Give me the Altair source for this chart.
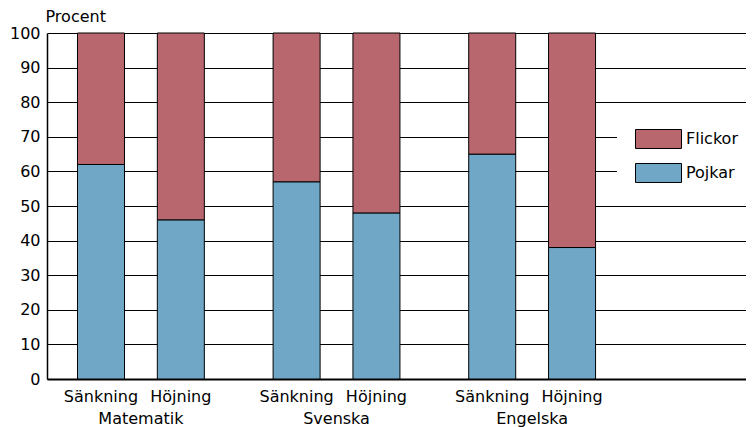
import altair as alt
import pandas as pd

subjects = ["Matematik", "Svenska", "Engelska"]
changes = ["Sänkning", "Höjning"]
pojkar = [62, 46, 57, 48, 65, 38]
flickor = [38, 54, 43, 52, 35, 62]
genders = ["Flickor", "Pojkar"]
colors = ["#B9676E", "#70A7C7"]
y_ticks = list(range(0, 101, 10))

FONT = "DejaVu Sans"
W, H = 699, 346
GROUP_STEP = 2.45
UNIT = 81.0
FIRST = 49.7  # pixel offset of first bar centre from the y axis

rows = []
labels = []
for k in range(6):
    g, i = divmod(k, 2)
    pos = g * GROUP_STEP + i
    rows.append(dict(subject=subjects[g], change=changes[i], pos=pos,
                     gender="Pojkar", value=pojkar[k], order=0))
    rows.append(dict(subject=subjects[g], change=changes[i], pos=pos,
                     gender="Flickor", value=flickor[k], order=1))
    labels.append(dict(pos=pos, text=changes[i]))
df = pd.DataFrame(rows)
df_lab = pd.DataFrame(labels)
df_grp = pd.DataFrame([dict(pos=g * GROUP_STEP + 0.5, text=s) for g, s in enumerate(subjects)])

x0 = -FIRST / UNIT
xscale = alt.Scale(domain=[x0, x0 + W / UNIT], nice=False, zero=False)

bars = alt.Chart(df).mark_bar(width=47, stroke="black", strokeWidth=1).encode(
    x=alt.X("pos:Q", scale=xscale,
            axis=alt.Axis(labels=False, ticks=False, grid=False, title=None,
                          domainColor="black", domainWidth=2)),
    y=alt.Y("value:Q", stack="zero", scale=alt.Scale(domain=[0, 100], nice=False),
            axis=alt.Axis(values=y_ticks, grid=True, gridColor="black", gridWidth=1,
                          domainColor="black", domainWidth=1.5, ticks=False, tickSize=0,
                          labelPadding=7, labelFont=FONT, labelFontSize=16,
                          labelColor="black", title="Procent", titleAngle=0,
                          titleAlign="left", titleBaseline="alphabetic",
                          titleX=-2, titleY=-12, titleFont=FONT, titleFontSize=16,
                          titleFontWeight="normal", titleColor="black")),
    color=alt.Color("gender:N", scale=alt.Scale(domain=genders, range=colors),
                    legend=alt.Legend(title=None, orient="none", legendX=570, legendY=78,
                                      fillColor="white", padding=18,
                                      symbolType="M-1,-0.413L1,-0.413L1,0.413L-1,0.413Z",
                                      symbolSize=2116, symbolStrokeColor="black",
                                      symbolStrokeWidth=1, symbolOpacity=1,
                                      labelFont=FONT, labelFontSize=16, labelColor="black",
                                      labelOffset=4, rowPadding=14, clipHeight=20)),
    order=alt.Order("order:Q"),
)

change_text = alt.Chart(df_lab).mark_text(
    font=FONT, fontSize=16, color="black", align="center", baseline="alphabetic"
).encode(x=alt.X("pos:Q", scale=xscale), y=alt.value(369), text="text:N")

group_text = alt.Chart(df_grp).mark_text(
    font=FONT, fontSize=16, color="black", align="center", baseline="alphabetic"
).encode(x=alt.X("pos:Q", scale=xscale), y=alt.value(391), text="text:N")

chart = alt.layer(bars, change_text, group_text).properties(
    width=W, height=H,
    padding={"left": 39, "top": 25, "right": 0, "bottom": 48},
    autosize=alt.AutoSizeParams(type="none"),
).configure_view(stroke=None)

chart.save("out.html", embed_options={"renderer": "svg", "actions": False})
